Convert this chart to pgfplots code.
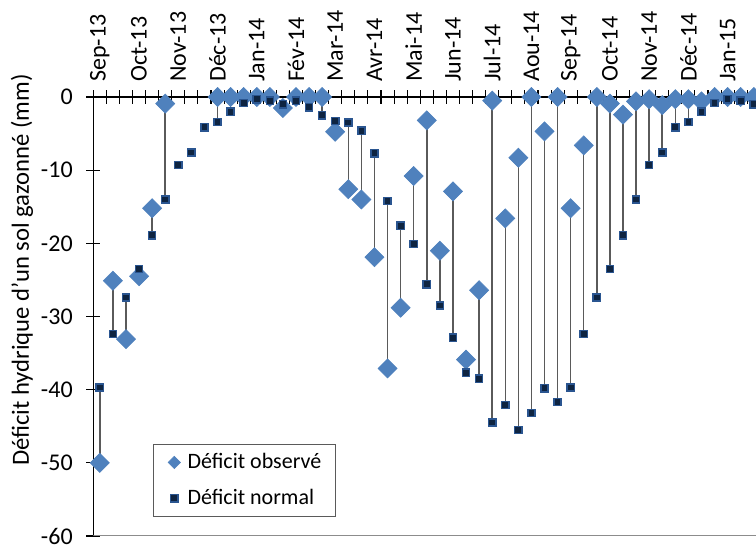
\documentclass[border=0pt]{standalone}
\usepackage{fontspec}
\setmainfont{Carlito}
\usepackage{pgfplots}
\pgfplotsset{compat=1.18}
\usepackage{pgfplotstable}
\definecolor{obs}{HTML}{4F81BD}
\definecolor{nrmfill}{HTML}{0E2441}
\definecolor{nrmdraw}{HTML}{2A5590}
\definecolor{hl}{HTML}{5A5A5A}
\pgfplotstableread{
i obs norm
0 -50.0 -39.7
1 -25.1 -32.4
2 -33.1 -27.4
3 -24.5 -23.5
4 -15.2 -18.9
5 -0.9 -14.0
6 nan -9.3
7 nan -7.6
8 nan -4.15
9 0 -3.4
10 0 -2.0
11 0 -0.8
12 0 -0.3
13 0 -0.5
14 -1.5 -1.0
15 0 -0.5
16 0 -1.4
17 0 -2.5
18 -4.75 -3.3
19 -12.6 -3.5
20 -14.0 -4.6
21 -21.9 -7.7
22 -37.1 -14.2
23 -28.8 -17.6
24 -10.8 -20.1
25 -3.2 -25.6
26 -21.0 -28.5
27 -12.9 -32.9
28 -35.9 -37.7
29 -26.4 -38.5
30 -0.5 -44.5
31 -16.6 -42.1
32 -8.3 -45.5
33 0 -43.2
34 -4.7 -39.8
35 0 -41.7
36 -15.2 -39.7
37 -6.6 -32.4
38 0 -27.4
39 -0.9 -23.5
40 -2.4 -18.9
41 -0.6 -14.0
42 -0.3 -9.3
43 -1.1 -7.6
44 -0.3 -4.15
45 -0.3 -3.4
46 -0.6 -2.0
47 0 -0.8
48 0 -0.3
49 0 -0.5
50 0 -1.0
}\data
\begin{document}
\begin{tikzpicture}
\begin{axis}[
  at={(0,0)}, anchor=south west,
  scale only axis, width=497.06pt, height=329.25pt,
  xmin=-0.5, xmax=50.17, ymin=-60, ymax=0,
  axis x line*=top, axis y line*=left,
  axis line style={black, line width=1pt},
  xtick={-0.5,0.5,...,49.5}, xticklabels={},
  extra x ticks={0,3,...,48},
  extra x tick labels={Sep-13,Oct-13,Nov-13,Déc-13,Jan-14,Fév-14,Mar-14,Avr-14,Mai-14,Jun-14,Jul-14,Aou-14,Sep-14,Oct-14,Nov-14,Déc-14,Jan-15},
  extra x tick style={major tick length=0pt},
  xticklabel style={rotate=90, anchor=west, inner sep=0pt},
  xticklabel shift=11.25pt,
  ytick={-60,-50,...,0}, yticklabels={-60,-50,-40,-30,-20,-10,0},
  yticklabel style={inner sep=0pt, anchor=east},
  yticklabel shift=10pt,
  tick align=center, major tick length=10.5pt,
  tick style={black, line width=0.8pt},
  tick label style={font=\fontsize{18}{20}\selectfont},
  ylabel={Déficit hydrique d'un sol gazonné (mm)},
  ylabel style={at={(axis description cs:-0.1075,0.606)}, anchor=center, font=\fontsize{18.5}{21}\selectfont},
  legend style={at={(axis description cs:0.0897,0.044)}, anchor=south west,
    draw=hl, line width=0.75pt, inner xsep=11pt, inner ysep=6pt,
    font=\fontsize{16.5}{19}\selectfont, row sep=11.8pt, column sep=0pt,
    nodes={inner sep=0pt, text height=12pt, text depth=3pt}},
  legend cell align=left,
]
\addplot[forget plot, only marks, mark=none,
  error bars/.cd, y dir=plus, y explicit, error mark=none,
  error bar style={draw=hl, line width=1.1pt, solid}]
  table[x=i, y=obs, y error expr=\thisrow{norm}-\thisrow{obs}] {\data};
\addplot[only marks, mark=square*, mark size=5.05pt,
  mark options={rotate=45, fill=obs, draw=obs, line width=0.5pt},
  legend image code/.code={\path (0pt,0pt) (14pt,0pt);
    \draw[mark=square*, mark size=3.3pt, mark options={rotate=45, fill=obs, draw=obs, line width=0.4pt}] plot coordinates {(4.45pt,0pt)};}]
  table[x=i, y=obs] {\data};
\addlegendentry{Déficit observé}
\addplot[only marks, mark=square*, mark size=2.7pt,
  mark options={fill=nrmfill, draw=nrmdraw, line width=1.1pt},
  legend image code/.code={\path (0pt,0pt) (14pt,0pt);
    \draw[mark=square*, mark size=2.7pt, mark options={fill=nrmfill, draw=nrmdraw, line width=1.1pt}] plot coordinates {(4.45pt,0pt)};}]
  table[x=i, y=norm] {\data};
\addlegendentry{Déficit normal}
\draw[color=gray!90, line width=1.5pt] (axis cs:-0.5,-60) -- (axis cs:50.17,-60);
\end{axis}
\pgfresetboundingbox
\path[use as bounding box] (-69.95pt,-6.75pt) rectangle (497.06pt,402pt);
\end{tikzpicture}
\end{document}
